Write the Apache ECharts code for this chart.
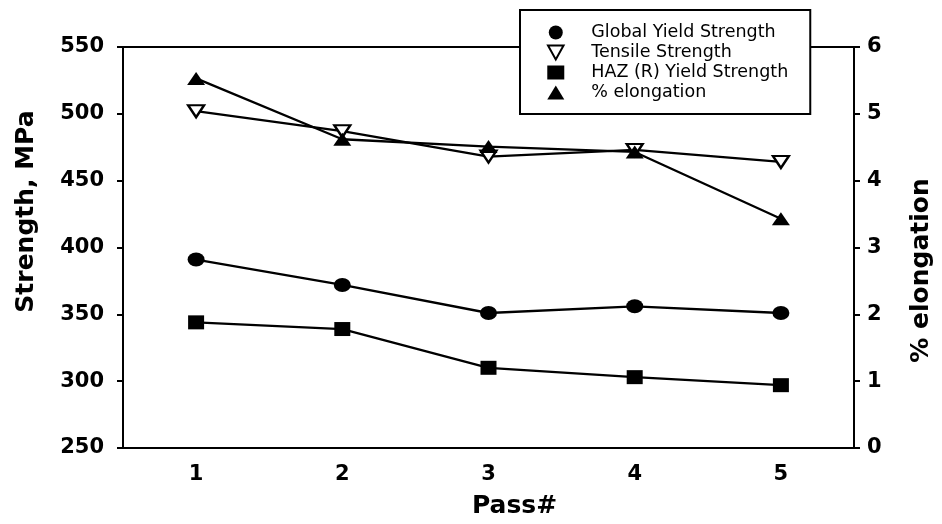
<!DOCTYPE html>
<html>
<head>
<meta charset="utf-8">
<script src="https://cdn.jsdelivr.net/npm/echarts@6/dist/echarts.min.js"></script>
<style>
html,body{margin:0;padding:0;background:#fff;}
#chart{width:942px;height:524px;}
</style>
</head>
<body>
<div id="chart"></div>
<script>
// ---- data ----
const categories = ['1', '2', '3', '4', '5'];
const globalYield = [391, 372, 351, 356, 351];
const tensile = [502, 487, 468, 473, 464];
const hazYield = [344, 339, 310, 303, 297];
const elongation = [5.53, 4.62, 4.51, 4.43, 3.43];
const seriesNames = ['Global Yield Strength', 'Tensile Strength', 'HAZ (R) Yield Strength', '% elongation'];
const leftAxisRange = [250, 550, 50];
const rightAxisRange = [0, 6, 1];

const chart = echarts.init(document.getElementById('chart'), null, {renderer: 'canvas'});
const tickFont = {fontFamily: 'DejaVu Sans', fontWeight: 'bold', fontSize: 21, color: '#000'};
const titleFont = {fontFamily: 'DejaVu Sans', fontWeight: 'bold', fontSize: 25, color: '#000'};
const axisLineStyle = {color: '#000', width: 2};
const downTri = 'path://M0,0L10,0L5,9Z';
const lineW = 2.3;

const option = {
  animation: false,
  backgroundColor: '#fff',
  grid: {left: 123, right: 85, top: 47, bottom: 68, show: true, borderColor: '#000', borderWidth: 2, backgroundColor: 'transparent'},
  legend: {
    orient: 'vertical', left: 520, top: 10,
    padding: [13, 22, 12, 27],
    itemWidth: 17, itemHeight: 14, itemGap: 1,
    backgroundColor: '#fff', borderColor: '#000', borderWidth: 2,
    textStyle: {fontFamily: 'DejaVu Sans', fontSize: 17.5, color: '#000', lineHeight: 19, padding: [0, 0, 0, 22]},
    selectedMode: false,
    z: 10,
    data: [
      {name: seriesNames[0], icon: 'circle', itemStyle: {color: '#000', borderWidth: 0}},
      {name: seriesNames[1], icon: downTri, itemStyle: {color: '#fff', borderColor: '#000', borderWidth: 2}},
      {name: seriesNames[2], icon: 'rect', itemStyle: {color: '#000', borderWidth: 0}},
      {name: seriesNames[3], icon: 'triangle', itemStyle: {color: '#000', borderWidth: 0}}
    ]
  },
  xAxis: {
    type: 'category', data: categories, boundaryGap: true,
    axisLine: {lineStyle: axisLineStyle},
    axisTick: {alignWithLabel: true, length: 6, lineStyle: axisLineStyle},
    axisLabel: Object.assign({margin: 16}, tickFont),
    name: 'Pass#', nameLocation: 'middle', nameGap: 46,
    nameTextStyle: Object.assign({padding: [0, 0, 0, 52]}, titleFont)
  },
  yAxis: [
    {
      type: 'value', min: leftAxisRange[0], max: leftAxisRange[1], interval: leftAxisRange[2], position: 'left',
      splitLine: {show: false},
      axisLine: {show: true, lineStyle: axisLineStyle},
      axisTick: {show: true, length: 6, lineStyle: axisLineStyle},
      axisLabel: Object.assign({margin: 19}, tickFont),
      name: 'Strength, MPa', nameLocation: 'middle', nameRotate: 90, nameGap: 84,
      nameTextStyle: Object.assign({padding: [0, 0, 0, 72]}, titleFont)
    },
    {
      type: 'value', min: rightAxisRange[0], max: rightAxisRange[1], interval: rightAxisRange[2], position: 'right',
      splitLine: {show: false},
      axisLine: {show: true, lineStyle: axisLineStyle},
      axisTick: {show: true, length: 6, lineStyle: axisLineStyle},
      axisLabel: Object.assign({margin: 13}, tickFont),
      name: '% elongation', nameLocation: 'middle', nameRotate: 90, nameGap: 55,
      nameTextStyle: Object.assign({padding: [0, 46, 0, 0]}, titleFont)
    }
  ],
  series: [
    {name: seriesNames[0], type: 'line', data: globalYield, yAxisIndex: 0,
     symbol: 'circle', symbolSize: [17, 14], lineStyle: {color: '#000', width: lineW},
     itemStyle: {color: '#000'}, emphasis: {disabled: true}},
    {name: seriesNames[1], type: 'line', data: tensile, yAxisIndex: 0,
     symbol: downTri, symbolSize: [16, 12], lineStyle: {color: '#000', width: lineW},
     itemStyle: {color: '#fff', borderColor: '#000', borderWidth: 2.3}, emphasis: {disabled: true}},
    {name: seriesNames[2], type: 'line', data: hazYield, yAxisIndex: 0,
     symbol: 'rect', symbolSize: [16, 14], lineStyle: {color: '#000', width: lineW},
     itemStyle: {color: '#000'}, emphasis: {disabled: true}},
    {name: seriesNames[3], type: 'line', data: elongation, yAxisIndex: 1,
     symbol: 'triangle', symbolSize: [18, 13], lineStyle: {color: '#000', width: lineW},
     itemStyle: {color: '#000'}, emphasis: {disabled: true}}
  ]
};
chart.setOption(option);
</script>
</body>
</html>
